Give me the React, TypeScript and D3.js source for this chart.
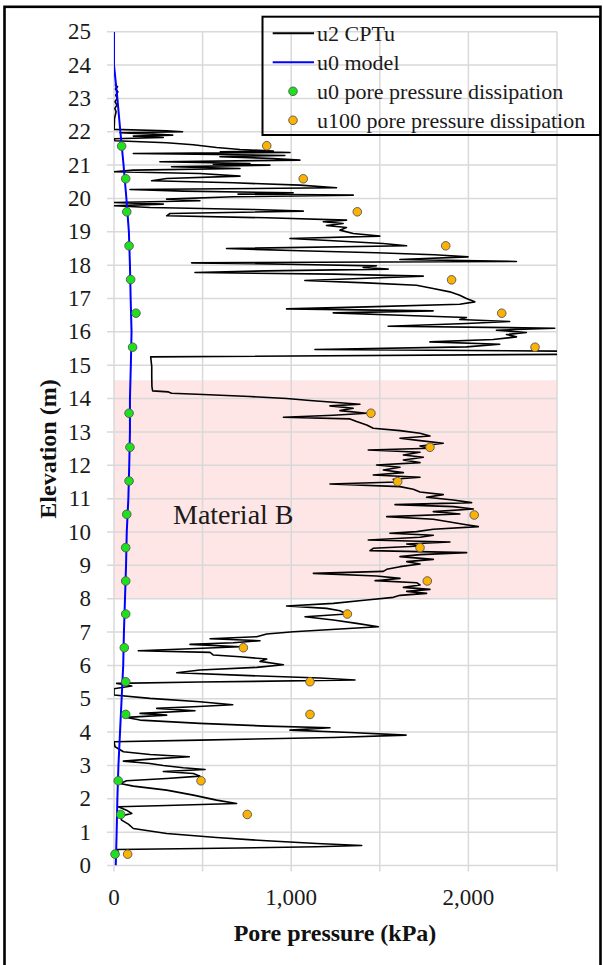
import React from 'react';
import * as d3 from 'd3';

// u2 CPTu trace: [elevation (m), pore pressure (kPa)], read from top to bottom
const u2Cptu: [number, number][] = [
  [23.42, 5], [23.35, 20], [23.28, 8], [23.2, 22], [23.1, 10], [23.0, 18], [22.9, 6], [22.8, 16],
  [22.7, 5], [22.6, 12], [22.4, 3], [22.2, 2], [22.07, 0],
  [22.03, 297], [22.0, 387], [21.97, 34], [21.93, 222], [21.9, 331], [21.87, 109], [21.83, 278],
  [21.79, 0], [21.73, 6], [21.67, 297], [21.61, 447], [21.53, 579], [21.47, 711], [21.42, 899],
  [21.4, 600], [21.39, 880],
  [21.38, 993], [21.35, 109], [21.32, 579], [21.29, 964], [21.25, 598], [21.2, 899], [21.15, 1049],
  [21.1, 259], [21.05, 767], [21.03, 560], [21.0, 880], [20.95, 325], [20.9, 711], [20.85, 109], [20.8, 0],
  [20.75, 485], [20.67, 711], [20.6, 297], [20.53, 212], [20.47, 673], [20.4, 1049], [20.32, 1256],
  [20.27, 90], [20.22, 391], [20.17, 1011], [20.13, 700], [20.1, 1350], [20.05, 673], [19.98, 297], [19.93, 485],
  [19.88, 0], [19.83, 278], [19.78, 0], [19.73, 203], [19.67, 786], [19.62, 1068], [19.55, 316],
  [19.48, 297], [19.42, 861], [19.35, 1312], [19.3, 1181], [19.25, 1293], [19.19, 1199], [19.13, 1312],
  [19.05, 1275], [18.95, 1350], [18.87, 1500], [18.8, 993], [18.73, 1237], [18.65, 1519], [18.58, 1651],
  [18.5, 635], [18.43, 1049], [18.37, 1481], [18.31, 1808], [18.25, 1998], [18.17, 1613], [18.11, 2271],
  [18.07, 438], [18.02, 1049], [17.98, 1481], [17.93, 1406], [17.88, 1547], [17.83, 861], [17.78, 457],
  [17.73, 1237], [17.67, 1745], [17.6, 1387], [17.54, 1077], [17.47, 1425], [17.4, 1707], [17.3, 1801],
  [17.2, 1895], [17.1, 1951], [17.0, 1989], [16.9, 2036], [16.83, 1951], [16.75, 1425], [16.69, 974],
  [16.63, 1801], [16.57, 1237], [16.5, 1613], [16.43, 1989], [16.37, 1951], [16.31, 2233], [16.25, 1989],
  [16.17, 1547], [16.11, 2487], [16.05, 2158], [15.98, 2327], [15.92, 2215], [15.85, 2271], [15.77, 2139],
  [15.7, 1783], [15.63, 2177], [15.55, 1989], [15.47, 1134], [15.42, 2600], [15.33, 2600], [15.25, 207],
  [14.96, 213], [14.66, 213], [14.36, 214], [14.23, 218], [14.2, 307], [14.16, 325], [14.12, 504],
  [14.06, 767], [14.0, 974], [13.94, 1106], [13.89, 1238], [13.83, 1388], [13.78, 1219], [13.71, 1350],
  [13.64, 1275], [13.56, 1426], [13.5, 1238], [13.44, 956], [13.39, 1332], [13.31, 1369], [13.21, 1426],
  [13.11, 1463], [13.04, 1614], [12.96, 1727], [12.88, 1783], [12.81, 1614], [12.74, 1727], [12.66, 1858],
  [12.58, 1727], [12.51, 1783], [12.46, 1435], [12.39, 1727], [12.31, 1633], [12.24, 1746], [12.16, 1633],
  [12.08, 1727], [12.01, 1482], [11.94, 1614], [11.86, 1520], [11.78, 1633], [11.71, 1463], [11.64, 1727],
  [11.58, 1576], [11.5, 1595], [11.44, 1219], [11.36, 1614], [11.28, 1689], [11.2, 1727], [11.12, 1858],
  [11.04, 1764], [10.96, 1915], [10.88, 2018], [10.82, 1586], [10.76, 1915], [10.69, 2028], [10.61, 1802],
  [10.54, 1952], [10.46, 1539], [10.38, 1802], [10.3, 1896], [10.23, 1971], [10.16, 2056], [10.08, 1802],
  [10.01, 1708], [9.96, 1557], [9.9, 1802], [9.84, 1727], [9.76, 1435], [9.7, 1896], [9.64, 1652],
  [9.58, 1727], [9.51, 1463], [9.44, 1445], [9.38, 1990], [9.32, 1727], [9.26, 1614], [9.18, 1802],
  [9.11, 1652], [9.04, 1727], [8.96, 1614], [8.88, 1539], [8.82, 1520], [8.76, 1125], [8.68, 1482],
  [8.61, 1614], [8.54, 1473], [8.48, 1708], [8.41, 1727], [8.34, 1633], [8.28, 1783], [8.22, 1652],
  [8.16, 1764], [8.1, 1614], [8.04, 1576], [7.96, 1426], [7.86, 1238], [7.78, 974], [7.71, 1200],
  [7.64, 1275], [7.54, 1313], [7.46, 1078], [7.36, 1238], [7.26, 1369], [7.16, 1492], [7.09, 1275],
  [7.01, 1012], [6.94, 862], [6.86, 805], [6.8, 542], [6.74, 824], [6.68, 673], [6.63, 429], [6.56, 711],
  [6.5, 429], [6.44, 137], [6.39, 542], [6.31, 561], [6.26, 711], [6.19, 862], [6.12, 824], [6.02, 956],
  [5.94, 805], [5.86, 485], [5.78, 354], [5.7, 730], [5.62, 1162], [5.56, 1360], [5.5, 485], [5.46, 15],
  [5.38, 100], [5.3, 0], [5.11, 0], [5.01, 203], [4.91, 485], [4.82, 670], [4.76, 448], [4.71, 241],
  [4.64, 457], [4.56, 147], [4.51, 297], [4.44, 71], [4.36, 147], [4.26, 485], [4.18, 862], [4.13, 1219],
  [4.06, 993], [3.99, 1332], [3.91, 1648], [3.84, 1238], [3.76, 485], [3.71, 0], [3.56, 6], [3.41, 53],
  [3.33, 203], [3.26, 425], [3.19, 203], [3.13, 53], [3.06, 203], [3.0, 278], [2.93, 391], [2.88, 514],
  [2.82, 278], [2.76, 448], [2.68, 485], [2.61, 297], [2.54, 71], [2.46, 34], [2.38, 109], [2.26, 297],
  [2.11, 448], [1.96, 579], [1.86, 692], [1.8, 297], [1.76, 24], [1.66, 71], [1.56, 100], [1.48, 34],
  [1.36, 43], [1.24, 81], [1.11, 109], [0.96, 297], [0.84, 579], [0.74, 862], [0.66, 1144], [0.6, 1398],
  [0.56, 1144], [0.51, 485], [0.48, 15], [0.41, 24], [0.34, 6],
];

const u0Model: [number, number][] = [
  [25, 0], [24, 0], [23, 19], [22, 36], [21, 54], [20, 70], [19, 84], [18, 90], [17, 94], [16, 99],
  [15, 95], [14, 90], [13, 90], [12, 86], [11, 81], [10, 72], [9, 68], [8, 62], [7, 56], [6, 52],
  [5, 43], [4, 34], [3, 25], [2, 19], [1, 15], [0, 10],
];

const u0Dissipation: [number, number][] = [
  [21.57, 43], [20.59, 66], [19.6, 72], [18.58, 85], [17.57, 94], [16.56, 124], [15.54, 105],
  [13.56, 85], [12.54, 90], [11.53, 85], [10.53, 72], [9.53, 66], [8.53, 66], [7.54, 66], [6.53, 58],
  [5.51, 66], [4.53, 66], [2.54, 24], [1.53, 38], [0.34, 6],
];

const u100Dissipation: [number, number][] = [
  [21.58, 862], [20.59, 1068], [19.6, 1373], [18.58, 1872], [17.56, 1905], [16.56, 2188], [15.54, 2376],
  [13.56, 1450], [12.54, 1783], [11.51, 1601], [10.51, 2033], [9.53, 1727], [8.53, 1768], [7.54, 1317],
  [6.53, 730], [5.51, 1106], [4.53, 1106], [2.54, 491], [1.53, 752], [0.34, 77],
];

const materialB = { label: 'Material B', top: 14.55, bottom: 8.0 };

const xTicks = [0, 500, 1000, 1500, 2000, 2500];
const xTickLabels = ['0', '', '1,000', '', '2,000', ''];
const yTicks = d3.range(0, 26);

const legendItems = [
  { label: 'u2 CPTu', kind: 'line', color: '#000000' },
  { label: 'u0 model', kind: 'line', color: '#0000ff' },
  { label: 'u0 pore pressure dissipation', kind: 'dot', color: '#1ee11e' },
  { label: 'u100 pore pressure dissipation', kind: 'dot', color: '#fbb203' },
];

const FONT = '"Liberation Serif", "Times New Roman", serif';
const GRID = '#d9d9d9';

export default function App() {
  const W = 603;
  const H = 965;
  const left = 114, right = 557, top = 31.7, bottom = 865.5;

  const x = d3.scaleLinear().domain([0, 2500]).range([left, right]);
  const y = d3.scaleLinear().domain([0, 25]).range([bottom, top]);

  const line = d3.line<[number, number]>().x(d => x(d[1])).y(d => y(d[0]));

  return (
    <div style={{ position: 'absolute', left: 0, top: 0 }}>
      <svg width={W} height={H} style={{ display: 'block', background: '#fff' }}>
        <defs>
          <clipPath id="plot">
            <rect x={left} y={top} width={right - left} height={bottom - top} />
          </clipPath>
        </defs>

        {/* outer frame */}
        <rect x={4.5} y={6.8} width={596} height={990} fill="none" stroke="#000" strokeWidth={2.6} />

        {/* material B band */}
        <rect x={left} y={y(materialB.top)} width={right - left}
          height={y(materialB.bottom) - y(materialB.top)} fill="#fde6e5" />

        {/* grid */}
        {yTicks.map(t => (
          <line key={'gy' + t} x1={left - 7} x2={right} y1={y(t)} y2={y(t)} stroke={GRID} strokeWidth={1.5} />
        ))}
        {xTicks.map(t => (
          <line key={'gx' + t} x1={x(t)} x2={x(t)} y1={top} y2={bottom + 6} stroke={GRID} strokeWidth={1.5} />
        ))}

        <text x={173} y={523.5} fontFamily={FONT} fontSize={28} fill="#1a1a1a">{materialB.label}</text>

        <g clipPath="url(#plot)">
          <path d={line(u2Cptu) ?? ''} fill="none" stroke="#000" strokeWidth={1.6} strokeLinejoin="round" />
          <path d={line(u0Model) ?? ''} fill="none" stroke="#0000ff" strokeWidth={2} />
        </g>
        {u0Dissipation.map((d, i) => (
          <circle key={'g' + i} cx={x(d[1])} cy={y(d[0])} r={4.3} fill="#1ee11e" stroke="#555" strokeWidth={0.9} />
        ))}
        {u100Dissipation.map((d, i) => (
          <circle key={'o' + i} cx={x(d[1])} cy={y(d[0])} r={4.3} fill="#fbb203" stroke="#555" strokeWidth={0.9} />
        ))}

        {/* axes labels */}
        {yTicks.map(t => (
          <text key={'ty' + t} x={91} y={y(t) + 7.6} textAnchor="end" fontFamily={FONT} fontSize={23} fill="#1a1a1a">{t}</text>
        ))}
        {xTicks.map((t, i) => (
          <text key={'tx' + t} x={x(t)} y={905} textAnchor="middle" fontFamily={FONT} fontSize={23} fill="#1a1a1a">{xTickLabels[i]}</text>
        ))}
        <text x={335} y={941} textAnchor="middle" fontFamily={FONT} fontSize={24} fontWeight="bold" fill="#111">Pore pressure (kPa)</text>
        <text transform="translate(56,449) rotate(-90)" textAnchor="middle" fontFamily={FONT} fontSize={24} fontWeight="bold" fill="#111">Elevation (m)</text>

        {/* legend */}
        <rect x={262.5} y={16.7} width={337.5} height={118.3} fill="none" stroke="#000" strokeWidth={2} />
        {legendItems.map((d, i) => {
          const ly = 33.3 + i * 29;
          return (
            <g key={'l' + i}>
              {d.kind === 'line'
                ? <line x1={272.7} x2={314} y1={ly} y2={ly} stroke={d.color} strokeWidth={2} />
                : <circle cx={293} cy={ly} r={4.3} fill={d.color} stroke="#555" strokeWidth={0.9} />}
              <text x={317} y={ly + 7.3} fontFamily={FONT} fontSize={22} fill="#1a1a1a">{d.label}</text>
            </g>
          );
        })}
      </svg>
    </div>
  );
}
